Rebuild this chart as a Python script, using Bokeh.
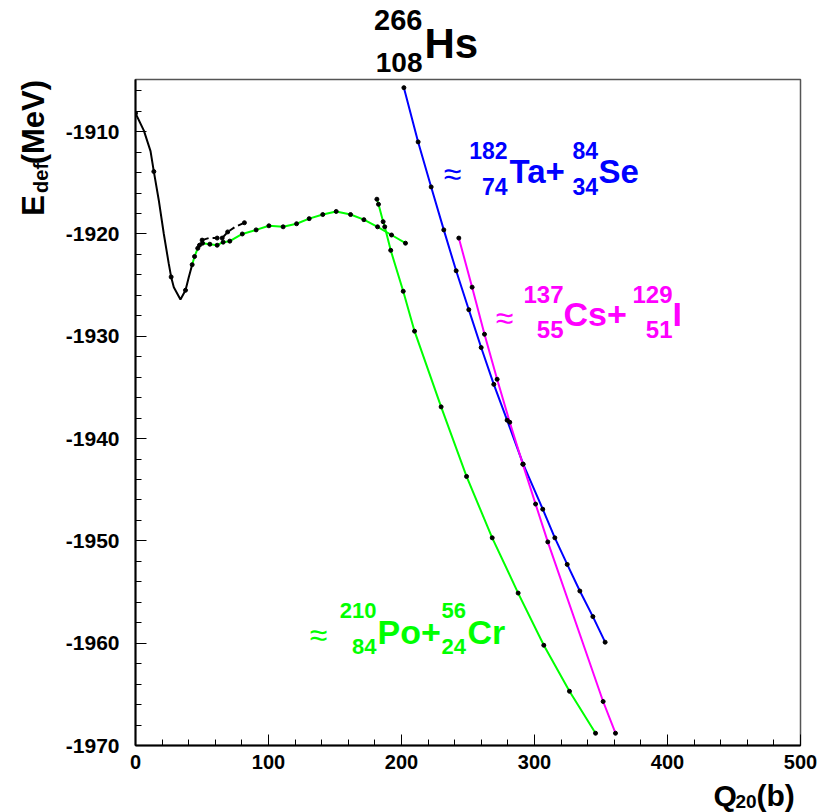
import math
from bokeh.plotting import figure
from bokeh.layouts import column, row
from bokeh.models import Label, Range1d, SingleIntervalTicker, PrintfTickFormatter
from bokeh.embed import file_html
from bokeh.resources import INLINE

# ---- data ----
# black solid curve (ground-state valley)
black_x = [0.0, 6.3, 11.3, 13.8, 17.5, 21.3, 25.0, 26.8, 28.8, 33.8, 37.6, 40.1, 42.6]
black_y = [-1908.2, -1909.9, -1911.9, -1913.9, -1916.7, -1920.0, -1922.9, -1924.2,
           -1925.2, -1926.4, -1925.5, -1924.2, -1923.0]
black_dot_x = [0.0, 13.8, 26.8, 37.6]
black_dot_y = [-1908.2, -1913.9, -1924.2, -1925.5]

# black dashed branch
dash_x = [46.9, 50.1, 55.0, 61.4, 65.2, 69.3, 75.0, 81.9]
dash_y = [-1921.4, -1920.6, -1920.4, -1920.4, -1920.4, -1919.8, -1919.3, -1918.9]
dash_dot_x = [50.1, 61.4, 65.2, 69.3, 81.9]
dash_dot_y = [-1920.6, -1920.4, -1920.4, -1919.8, -1918.9]

# green branch, compact shapes
green1_x = [42.6, 44.4, 46.8, 48.1, 50.4, 55.9, 61.4, 65.9, 70.9, 80.3, 90.7, 100.3,
            111.0, 121.1, 130.6, 140.8, 150.9, 161.7, 171.7, 182.0, 192.5, 203.0]
green1_y = [-1923.0, -1922.2, -1921.4, -1921.1, -1920.9, -1921.0, -1921.1, -1920.8,
            -1920.7, -1920.0, -1919.6, -1919.2, -1919.3, -1919.0, -1918.5, -1918.1,
            -1917.8, -1918.1, -1918.6, -1919.3, -1920.1, -1920.9]

# green fission path (Po + Cr)
green2_x = [181.5, 182.7, 186.2, 187.4, 191.9, 201.3, 209.8, 229.8, 248.9, 268.2,
            287.7, 307.0, 326.3, 345.9]
green2_y = [-1916.6, -1917.1, -1918.8, -1919.3, -1921.6, -1925.6, -1929.5, -1936.9,
            -1943.7, -1949.7, -1955.1, -1960.2, -1964.7, -1968.8]

# blue fission path (Ta + Se)
blue_x = [201.8, 212.5, 222.3, 231.8, 241.1, 250.6, 259.9, 269.4, 279.4, 291.5,
          306.2, 315.3, 324.6, 334.1, 343.9, 353.1]
blue_y = [-1905.7, -1911.0, -1915.4, -1919.6, -1923.6, -1927.4, -1931.1, -1934.7,
          -1938.2, -1942.5, -1946.9, -1949.7, -1952.3, -1954.9, -1957.4, -1959.9]

# magenta fission path (Cs + I)
mag_x = [243.1, 253.1, 262.4, 271.9, 281.4, 291.2, 300.8, 310.0, 351.6, 360.9]
mag_y = [-1920.4, -1925.2, -1929.8, -1934.2, -1938.4, -1942.5, -1946.4, -1950.1,
         -1965.7, -1968.8]

x_lo, x_hi = 0, 500
y_lo, y_hi = -1970, -1904.9

GREEN = "#00ff00"
BLUE = "#0000ff"
MAG = "#ff00ff"
FONT = "Liberation Sans"


def add_label(fig, x, y, text, size, color, align="left", baseline="middle",
              angle=0.0, style="bold"):
    fig.add_layout(Label(x=x, y=y, text=text, text_font=FONT,
                         text_font_size=f"{size}px", text_font_style=style,
                         text_color=color, text_align=align,
                         text_baseline=baseline, angle=angle))


def blank(w, h):
    f = figure(width=w, height=h, output_backend="svg", toolbar_location=None,
               x_range=Range1d(0, w), y_range=Range1d(0, h),
               x_axis_type=None, y_axis_type=None, min_border=0)
    f.outline_line_color = None
    f.background_fill_color = "white"
    f.border_fill_color = "white"
    return f


# ---- main plot ----
p = figure(width=775, height=699, output_backend="svg", toolbar_location=None,
           x_range=Range1d(x_lo, x_hi), y_range=Range1d(y_lo, y_hi),
           min_border_left=80, min_border_right=30, min_border_top=1,
           min_border_bottom=32)
p.grid.visible = False
p.background_fill_color = "white"
p.border_fill_color = "white"
p.outline_line_color = "#555555"
p.outline_line_width = 1.5

p.xaxis.ticker = SingleIntervalTicker(interval=100, num_minor_ticks=5)
p.yaxis.ticker = SingleIntervalTicker(interval=10, num_minor_ticks=5)
for ax in (p.xaxis[0], p.yaxis[0]):
    ax.formatter = PrintfTickFormatter(format="%d")
    ax.axis_line_width = 2
    ax.axis_line_color = "black"
    ax.major_tick_in = 11
    ax.major_tick_out = 0
    ax.minor_tick_in = 6
    ax.minor_tick_out = 0
    ax.major_tick_line_color = "black"
    ax.minor_tick_line_color = "black"
    ax.major_label_text_font = FONT
    ax.major_label_text_font_style = "bold"
    ax.major_label_text_font_size = "21px"
    ax.major_label_text_color = "black"
p.xaxis.major_label_text_font_size = "20px"
p.xaxis.major_label_standoff = 9
p.yaxis.major_label_standoff = 16

p.line(black_x, black_y, line_color="black", line_width=2)
p.line(dash_x, dash_y, line_color="black", line_width=2, line_dash="6 4")
p.line(green1_x, green1_y, line_color=GREEN, line_width=2)
p.line(green2_x, green2_y, line_color=GREEN, line_width=2)
p.line(blue_x, blue_y, line_color=BLUE, line_width=2)
p.line(mag_x, mag_y, line_color=MAG, line_width=2)

for xs, ys in ((black_dot_x, black_dot_y), (dash_dot_x, dash_dot_y),
               (green1_x, green1_y), (green2_x, green2_y),
               (blue_x, blue_y), (mag_x, mag_y)):
    p.scatter(xs, ys, marker="circle", size=4, fill_color="black",
              line_color="black")

# blue: Ta + Se
add_label(p, 238.3, -1914.1, "≈", 32, BLUE, align="center", style="normal")
add_label(p, 279.7, -1911.85, "182", 23, BLUE, align="right")
add_label(p, 279.7, -1915.37, "74", 23, BLUE, align="right")
add_label(p, 281.2, -1913.86, "Ta+", 33, BLUE)
add_label(p, 328.6, -1911.85, "84", 23, BLUE)
add_label(p, 328.6, -1915.37, "34", 23, BLUE)
add_label(p, 348.1, -1913.86, "Se", 33, BLUE)

# magenta: Cs + I
add_label(p, 277.4, -1928.2, "≈", 32, MAG, align="center", style="normal")
add_label(p, 321.8, -1925.89, "137", 24, MAG, align="right")
add_label(p, 321.8, -1929.31, "55", 24, MAG, align="right")
add_label(p, 321.8, -1927.80, "Cs+", 34, MAG)
add_label(p, 403.8, -1925.89, "129", 24, MAG, align="right")
add_label(p, 403.8, -1929.31, "51", 24, MAG, align="right")
add_label(p, 403.8, -1927.80, "I", 34, MAG)

# green: Po + Cr
add_label(p, 137.6, -1959.2, "≈", 32, GREEN, align="center", style="normal")
add_label(p, 181.2, -1956.84, "210", 22, GREEN, align="right")
add_label(p, 181.2, -1960.36, "84", 22, GREEN, align="right")
add_label(p, 182.0, -1958.87, "Po+", 34, GREEN)
add_label(p, 230.1, -1956.84, "56", 22, GREEN)
add_label(p, 230.1, -1960.36, "24", 22, GREEN)
add_label(p, 249.6, -1958.87, "Cr", 34, GREEN)

# ---- title strip (266/108 Hs) ----
top = blank(830, 78)
add_label(top, 422, 58.2, "266", 29, "black", align="right")
add_label(top, 422, 15.8, "108", 28, "black", align="right")
add_label(top, 424, 34.7, "Hs", 42, "black")

# ---- y-axis title strip ----
left = blank(55, 699)
add_label(left, 32.5, 556, "E", 31, "black", angle=math.pi / 2)
add_label(left, 40, 580, "def", 20, "black", angle=math.pi / 2)
add_label(left, 32.5, 610, "(MeV)", 31, "black", angle=math.pi / 2)

# ---- x-axis title strip ----
bottom = blank(830, 35)
add_label(bottom, 713, 17.5, "Q", 30, "black")
add_label(bottom, 735, 10.6, "20", 19, "black")
add_label(bottom, 756, 17.5, "(b)", 30, "black")

layout = column(top, row(left, p, spacing=0), bottom, spacing=0)

open("out.html", "w").write(file_html(layout, INLINE))
